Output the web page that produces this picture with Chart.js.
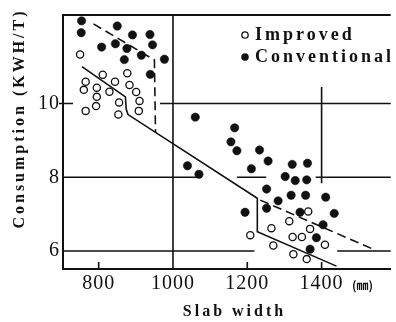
<!DOCTYPE html>
<html>
<head>
<meta charset="utf-8">
<script src="https://cdn.jsdelivr.net/npm/chart.js@4"></script>
<style>
html,body{margin:0;padding:0;background:#fff;}
canvas{display:block;}
</style>
</head>
<body>
<canvas id="c" width="396" height="322"></canvas>
<script>
// ---- data ----
const xTicks = [800, 1000, 1200, 1400];
const yTicks = [6, 8, 10];

const improvedX = [750, 811, 877, 765, 760, 795, 795, 844, 829, 883, 901, 910, 855, 793, 765, 908, 853,
                   1364, 1313, 1265, 1369, 1208, 1322, 1347, 1409, 1270, 1324, 1360];
const improvedY = [11.33, 10.78, 10.82, 10.59, 10.37, 10.43, 10.18, 10.59, 10.32, 10.50, 10.31, 10.07, 10.03, 9.93, 9.80, 9.80, 9.70,
                   7.07, 6.81, 6.62, 6.60, 6.43, 6.38, 6.38, 6.17, 6.15, 5.91, 5.78];

const conventionalX = [754, 753, 850, 891, 938, 808, 845, 876, 945, 915, 869, 977, 939,
                       1060, 1166, 1156, 1172, 1233, 1256, 1039, 1070, 1211, 1321, 1362, 1302, 1329, 1360,
                       1252, 1318, 1357, 1411, 1283, 1252, 1194, 1342, 1434, 1404, 1386, 1369];
const conventionalY = [12.24, 11.92, 12.10, 11.86, 11.87, 11.53, 11.62, 11.49, 11.59, 11.31, 11.19, 11.20, 10.79,
                       9.63, 9.34, 8.96, 8.72, 8.74, 8.44, 8.31, 8.08, 8.23, 8.35, 8.38, 8.02, 7.91, 7.93,
                       7.68, 7.51, 7.51, 7.46, 7.36, 7.16, 7.05, 7.05, 7.02, 6.71, 6.36, 6.05];

const improvedFitX = [755, 872, 874, 879, 1227, 1227, 1440];
const improvedFitY = [11.0, 10.18, 9.85, 9.70, 7.43, 6.52, 5.59];

const conventionalFitAX = [786, 950, 953];
const conventionalFitAY = [12.16, 11.18, 9.2];
const conventionalFitBX = [1235, 1534];
const conventionalFitBY = [7.38, 6.07];

const seriesNames = ['Improved', 'Conventional'];
const xTitle = 'Slab width';
const yTitle = 'Consumption (KWH/T)';
const xUnit = '(㎜)';

// ---- helpers ----
const pts = (xs, ys) => xs.map((x, i) => ({x: x, y: ys[i]}));
const INK = '#111';

// broken reference lines (value along axis, [from, to] spans)
const hLines = [
  {y: 10, spans: [[965, 1586]]},
  {y: 8, spans: [[704, 1065], [1172, 1251], [1384, 1586]]},
  {y: 6, spans: [[704, 1219], [1442, 1586]]}
];
const vLines = [
  {x: 1000, spans: [[5.51, 12.4]]},
  {x: 1400, spans: [[7.84, 10.45]]}
];

const decor = {
  id: 'decor',
  beforeDraw(chart) {
    chart.ctx.letterSpacing = '1px';
  },
  beforeDatasetsDraw(chart) {
    const ctx = chart.ctx, xs = chart.scales.x, ys = chart.scales.y, a = chart.chartArea;
    ctx.save();
    ctx.strokeStyle = INK;
    ctx.lineWidth = 1.6;
    ctx.beginPath();
    hLines.forEach(l => {
      const py = ys.getPixelForValue(l.y);
      l.spans.forEach(s => {
        ctx.moveTo(xs.getPixelForValue(s[0]), py);
        ctx.lineTo(Math.min(a.right, xs.getPixelForValue(s[1])), py);
      });
    });
    vLines.forEach(l => {
      const px = xs.getPixelForValue(l.x);
      l.spans.forEach(s => {
        ctx.moveTo(px, Math.min(a.bottom, ys.getPixelForValue(s[0])));
        ctx.lineTo(px, Math.max(a.top, ys.getPixelForValue(s[1])));
      });
    });
    ctx.stroke();
    // top frame line
    ctx.lineWidth = 2;
    ctx.beginPath();
    ctx.moveTo(a.left - 1, a.top);
    ctx.lineTo(a.right, a.top);
    ctx.stroke();
    // inward tick marks
    ctx.lineWidth = 1.6;
    ctx.beginPath();
    [800, 1200, 1400].forEach(v => {
      const px = xs.getPixelForValue(v);
      ctx.moveTo(px, a.bottom);
      ctx.lineTo(px, a.bottom - 7);
    });
    const p10 = ys.getPixelForValue(10);
    ctx.moveTo(a.left - 4, p10);
    ctx.lineTo(a.left + 10, p10);
    ctx.stroke();
    ctx.restore();
  },
  afterDraw(chart) {
    const ctx = chart.ctx;
    ctx.save();
    ctx.fillStyle = INK;
    ctx.strokeStyle = INK;
    // legend
    ctx.lineWidth = 1.3;
    ctx.beginPath();
    ctx.arc(245, 35, 3.2, 0, Math.PI * 2);
    ctx.fillStyle = '#fff';
    ctx.fill();
    ctx.stroke();
    ctx.fillStyle = INK;
    ctx.beginPath();
    ctx.arc(245, 57, 3.8, 0, Math.PI * 2);
    ctx.fill();
    ctx.font = 'bold 18px "Liberation Serif"';
    ctx.letterSpacing = '3px';
    ctx.textAlign = 'left';
    ctx.textBaseline = 'middle';
    ctx.fillText(seriesNames[0], 255, 35);
    ctx.fillText(seriesNames[1], 255, 57);
    // x title
    ctx.font = 'bold 16px "Liberation Serif"';
    ctx.letterSpacing = '3px';
    ctx.textAlign = 'center';
    ctx.fillText(xTitle, 234.5, 312);
    // y title
    ctx.save();
    ctx.translate(20, 120);
    ctx.rotate(-Math.PI / 2);
    ctx.fillText(yTitle, 1.5, 0);
    ctx.restore();
    // unit
    ctx.letterSpacing = '0px';
    ctx.font = 'bold 12px "Noto Sans CJK JP"';
    ctx.textAlign = 'left';
    ctx.fillText(xUnit, 352, 285);
    ctx.restore();
  }
};

new Chart(document.getElementById('c'), {
  type: 'scatter',
  data: {
    datasets: [
      {
        label: seriesNames[0],
        data: pts(improvedX, improvedY),
        pointStyle: 'circle',
        pointRadius: 3.6,
        pointBorderWidth: 1.3,
        borderColor: INK,
        backgroundColor: '#fff'
      },
      {
        label: seriesNames[1],
        data: pts(conventionalX, conventionalY),
        pointStyle: 'circle',
        pointRadius: 4.2,
        pointBorderWidth: 0.5,
        borderColor: INK,
        backgroundColor: INK
      },
      {
        label: 'Improved fit',
        data: pts(improvedFitX, improvedFitY),
        showLine: true, pointRadius: 0, borderWidth: 1.6, borderColor: INK, fill: false
      },
      {
        label: 'Conventional fit A',
        data: pts(conventionalFitAX, conventionalFitAY),
        showLine: true, pointRadius: 0, borderWidth: 1.6, borderColor: INK, borderDash: [9, 5], fill: false
      },
      {
        label: 'Conventional fit B',
        data: pts(conventionalFitBX, conventionalFitBY),
        showLine: true, pointRadius: 0, borderWidth: 1.6, borderColor: INK, borderDash: [9, 5], fill: false
      }
    ]
  },
  options: {
    responsive: false,
    animation: false,
    devicePixelRatio: 1,
    layout: {padding: {top: 15, left: 0, right: 0, bottom: 0}},
    plugins: {legend: {display: false}, tooltip: {enabled: false}},
    scales: {
      x: {
        type: 'linear', min: 704, max: 1586,
        afterBuildTicks: s => { s.ticks = xTicks.map(v => ({value: v})); },
        afterFit: s => { s.height = 53; },
        ticks: {font: {family: 'Liberation Serif', size: 20}, color: INK, padding: 3, maxRotation: 0, autoSkip: false,
                callback: v => String(v)},
        grid: {display: false, drawTicks: false},
        border: {display: true, color: INK, width: 2}
      },
      y: {
        type: 'linear', min: 5.512, max: 12.4,
        afterBuildTicks: s => { s.ticks = yTicks.map(v => ({value: v})); },
        afterFit: s => { s.width = 63; },
        ticks: {font: {family: 'Liberation Serif', size: 20}, color: INK, padding: 3, autoSkip: false,
                callback: v => String(v)},
        grid: {display: false, drawTicks: false},
        border: {display: true, color: INK, width: 2}
      }
    }
  },
  plugins: [decor]
});
</script>
</body>
</html>
